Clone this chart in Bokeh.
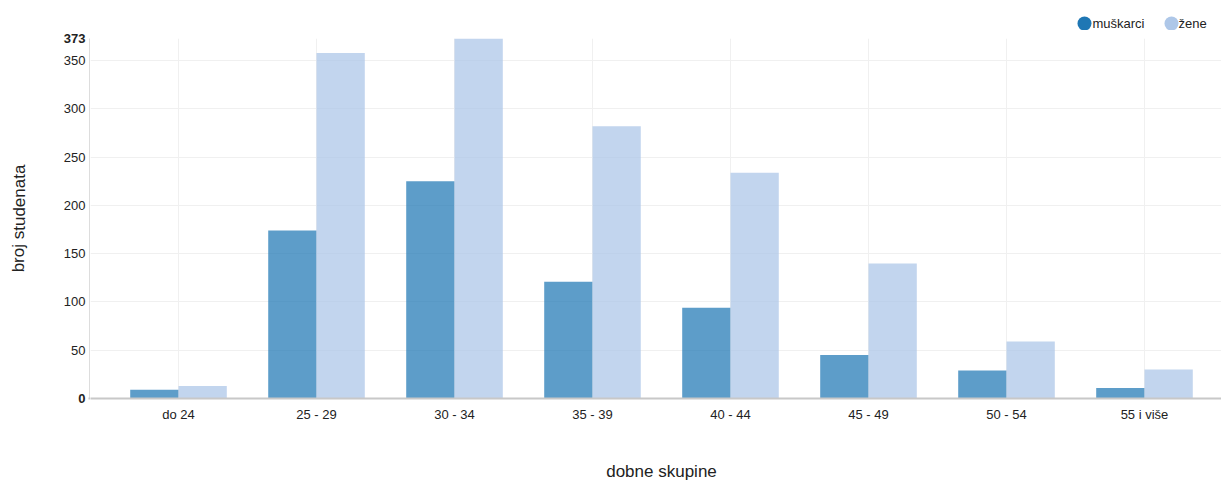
from bokeh.plotting import figure
from bokeh.models import ColumnDataSource, FixedTicker, Range1d
from bokeh.layouts import column, row
from bokeh.transform import dodge
from bokeh.core.properties import value
from bokeh.embed import file_html
from bokeh.resources import INLINE

categories = ["do 24", "25 - 29", "30 - 34", "35 - 39", "40 - 44", "45 - 49", "50 - 54", "55 i više"]
muskarci = [9, 174, 225, 121, 94, 45, 29, 11]
zene = [13, 358, 373, 282, 234, 140, 59, 30]
y_ticks = [0, 50, 100, 150, 200, 250, 300, 350, 373]
y_tick_styles = ["bold", "normal", "normal", "normal", "normal", "normal", "normal", "normal", "bold"]
series_names = ["muškarci", "žene"]
series_colors = ["#1f77b4", "#aec7e8"]
y_title = "broj studenata"
x_title = "dobne skupine"

FONT = "Liberation Sans"
W = 1221
LEG_H = 30         # legend strip height
LEFT = 90          # width of the y-axis strip
TOP_PAD = 8
BOTTOM = 40        # space under the frame for x tick labels
FRAME_H = 360
MAIN_H = TOP_PAD + FRAME_H + BOTTOM
TITLE_H = 483 - LEG_H - MAIN_H
YMAX = 373
K = FRAME_H / YMAX     # pixels per unit on the y axis


def bare(fig):
    fig.axis.visible = False
    fig.grid.visible = False
    fig.outline_line_color = None
    fig.frame_align = False
    return fig


NOB = dict(min_border_left=0, min_border_right=0, min_border_top=0, min_border_bottom=0)

# ---- legend strip ----
leg = bare(figure(width=W, height=LEG_H, output_backend="svg", toolbar_location=None,
                  x_range=Range1d(0, W), y_range=Range1d(LEG_H, 0), **NOB))
leg_src = ColumnDataSource(dict(cx=[1084, 1171], cy=[23, 23], tx=[1092, 1178],
                                name=series_names, color=series_colors))
leg.scatter(x="cx", y="cy", size=14, fill_color="color", line_color=None, source=leg_src)
leg.text(x="tx", y="cy", text="name", text_baseline="middle", text_font=value(FONT),
         text_font_size="13px", text_color="#222222", source=leg_src)

# ---- y-axis strip (tick labels, axis line, title) ----
ax = bare(figure(width=LEFT, height=MAIN_H, output_backend="svg", toolbar_location=None,
                 x_range=Range1d(0, LEFT),
                 y_range=Range1d(-BOTTOM / K, YMAX + TOP_PAD / K), **NOB))
tick_src = ColumnDataSource(dict(y=y_ticks, lab=[str(t) for t in y_ticks], style=y_tick_styles,
                                 x=[85] * len(y_ticks)))
ax.text(x="x", y="y", text="lab", text_align="right", text_baseline="middle",
        text_font=value(FONT), text_font_size="13px", text_font_style="style",
        text_color="#222222", source=tick_src)
ax.segment(x0=[89.5], y0=[0], x1=[89.5], y1=[YMAX], line_color="#bbbbbb", line_width=1)
ax.segment(x0=[88], y0=[0], x1=[LEFT], y1=[0], line_color="#c8c8c8", line_width=2)
ax.text(x=[18.5], y=[YMAX - (218 - 38) / K], text=[y_title], angle=1.5707963,
        text_align="center", text_baseline="middle", text_font=value(FONT),
        text_font_size="17px", text_color="#222222")

# ---- main chart ----
src = ColumnDataSource(dict(x=list(range(len(categories))), cat=categories, m=muskarci, z=zene))

p = figure(width=W - LEFT, height=MAIN_H, output_backend="svg", toolbar_location=None,
           x_range=Range1d(-0.645 + 1 / 138, 7.558), y_range=Range1d(0, YMAX),
           min_border_left=0, min_border_right=0, min_border_top=TOP_PAD, min_border_bottom=BOTTOM)
p.outline_line_color = None
p.frame_align = False

p.vbar(x=dodge("x", -0.175), top="m", width=0.35, source=src,
       fill_color=series_colors[0], fill_alpha=0.72, line_color=None)
p.vbar(x=dodge("x", 0.175), top="z", width=0.35, source=src,
       fill_color=series_colors[1], fill_alpha=0.75, line_color=None)

p.yaxis.visible = False
p.xaxis.ticker = FixedTicker(ticks=list(range(len(categories))))
p.xaxis.major_label_overrides = {i: c for i, c in enumerate(categories)}
p.xaxis.major_tick_line_color = None
p.xaxis.minor_tick_line_color = None
p.xaxis.major_label_text_font = FONT
p.xaxis.major_label_text_font_size = "13px"
p.xaxis.major_label_text_color = "#222222"
p.xaxis.axis_line_color = "#c8c8c8"
p.xaxis.axis_line_width = 2
p.xaxis.major_label_standoff = 2

p.xgrid.ticker = FixedTicker(ticks=list(range(len(categories))))
p.ygrid.ticker = FixedTicker(ticks=[50, 100, 150, 200, 250, 300, 350])
p.xgrid.grid_line_color = "#f0f0f0"
p.ygrid.grid_line_color = "#f0f0f0"

# ---- x-axis title strip ----
tt = bare(figure(width=W, height=TITLE_H, output_backend="svg", toolbar_location=None,
                 x_range=Range1d(0, W), y_range=Range1d(TITLE_H, 0), **NOB))
tt.text(x=[661], y=[471 - (LEG_H + MAIN_H)], text=[x_title], text_align="center",
        text_baseline="middle", text_font=value(FONT), text_font_size="17px",
        text_color="#222222")

layout = column(leg, row(ax, p, spacing=0), tt, spacing=0)
open("out.html", "w").write(file_html(layout, INLINE))
